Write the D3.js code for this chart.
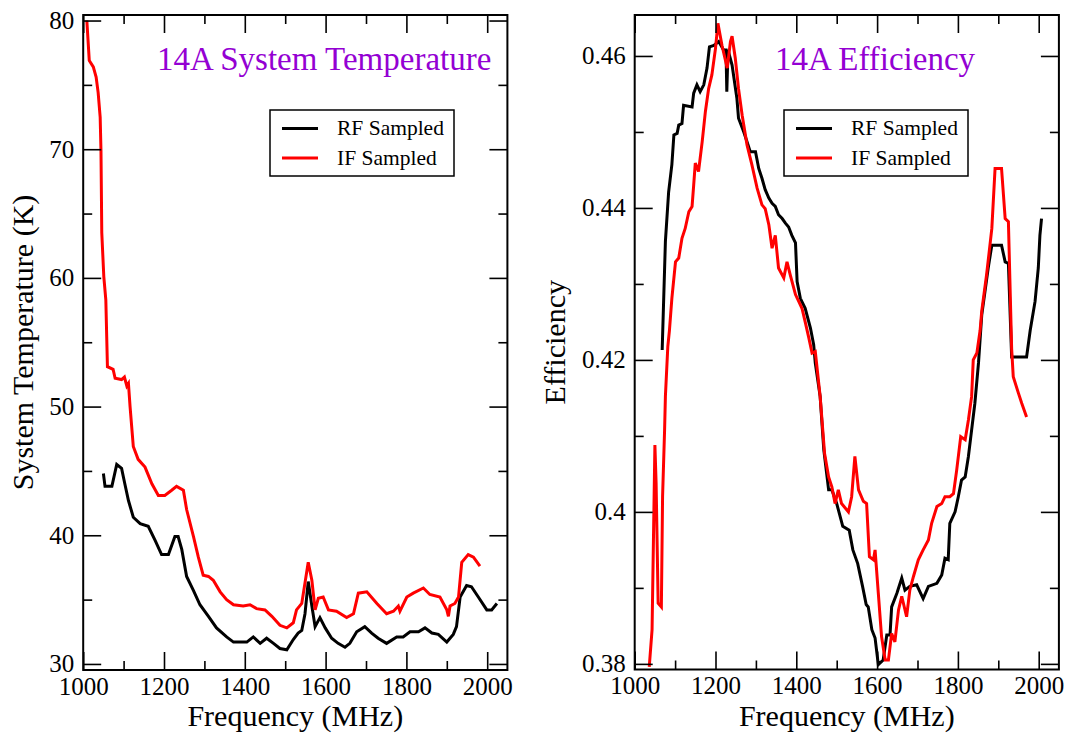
<!DOCTYPE html>
<html lang="en">
<head>
<meta charset="UTF-8">
<title>14A System Temperature and Efficiency</title>
<script src="https://cdnjs.cloudflare.com/ajax/libs/d3/7.8.5/d3.min.js"></script>
<style>
  body { margin: 0; background: #fff; }
  svg { display: block; font-family: "Liberation Serif", "Times New Roman", serif; }
</style>
</head>
<body>
<svg id="chart" width="1067" height="733"></svg>
<script>
// ---- data: [frequency MHz, value] ----
const tempRF = [
  [1050,44.8],[1054,43.8],[1071,43.8],[1083,45.5],[1095,45.2],[1103,44.0],[1112,42.7],
  [1124,41.4],[1141,40.9],[1161,40.7],[1178,39.6],[1194,38.5],[1211,38.5],[1227,39.9],
  [1235,39.9],[1244,38.9],[1256,36.8],[1273,35.7],[1289,34.6],[1310,33.7],[1330,32.8],
  [1355,32.1],[1372,31.7],[1405,31.7],[1421,32.1],[1438,31.6],[1454,32.0],[1471,31.6],
  [1487,31.2],[1504,31.1],[1520,31.9],[1532,32.4],[1541,32.6],[1549,33.9],[1557,36.4],
  [1566,34.5],[1574,32.9],[1586,33.6],[1599,32.8],[1615,32.0],[1631,31.6],[1648,31.3],
  [1660,31.6],[1677,32.5],[1697,32.9],[1714,32.4],[1730,32.0],[1751,31.6],[1776,32.1],
  [1792,32.1],[1809,32.5],[1830,32.5],[1846,32.8],[1863,32.4],[1879,32.3],[1900,31.7],
  [1916,32.3],[1924,32.9],[1933,35.2],[1949,36.1],[1961,36.0],[1978,35.2],[1999,34.2],
  [2011,34.2],[2024,34.7]
];
const tempIF = [
  [1009,80.0],[1015,76.9],[1025,76.4],[1032,75.6],[1037,74.4],[1042,72.5],[1044,69.9],
  [1046,63.5],[1051,60.1],[1056,58.3],[1060,53.1],[1074,52.9],[1079,52.2],[1095,52.1],
  [1102,52.3],[1108,51.6],[1112,51.8],[1116,50.0],[1124,46.9],[1136,45.9],[1153,45.3],
  [1170,44.0],[1186,43.1],[1202,43.1],[1219,43.5],[1231,43.8],[1248,43.5],[1256,42.0],
  [1273,39.9],[1285,38.3],[1297,36.9],[1310,36.8],[1322,36.5],[1339,35.6],[1355,35.0],
  [1372,34.6],[1396,34.5],[1413,34.6],[1429,34.3],[1450,34.2],[1467,33.7],[1487,33.0],
  [1504,32.8],[1520,33.2],[1528,34.2],[1541,34.7],[1557,37.9],[1566,36.5],[1574,34.2],
  [1582,35.1],[1594,35.2],[1607,34.2],[1627,34.1],[1652,33.6],[1669,33.9],[1681,35.5],
  [1702,35.6],[1727,34.7],[1751,33.9],[1768,34.1],[1780,34.5],[1784,34.1],[1801,35.2],
  [1817,35.5],[1842,35.9],[1858,35.4],[1883,35.2],[1900,34.2],[1904,33.7],[1908,34.5],
  [1920,34.7],[1929,35.2],[1937,37.9],[1953,38.5],[1966,38.3],[1982,37.6]
];
const effRF = [
  [1068,0.4213],[1076,0.4356],[1084,0.4421],[1092,0.4457],[1097,0.4496],[1105,0.4498],
  [1109,0.4509],[1117,0.4511],[1121,0.4535],[1142,0.4533],[1146,0.4551],[1154,0.4562],
  [1162,0.4553],[1171,0.4562],[1179,0.4584],[1185,0.4612],[1196,0.4614],[1208,0.4619],
  [1220,0.4608],[1226,0.4608],[1228,0.4553],[1231,0.4608],[1241,0.4588],[1253,0.4544],
  [1257,0.4518],[1270,0.4500],[1278,0.4487],[1286,0.4474],[1299,0.4474],[1307,0.4452],
  [1315,0.4439],[1323,0.4424],[1332,0.4413],[1340,0.4406],[1348,0.4402],[1356,0.4391],
  [1365,0.4386],[1373,0.4380],[1381,0.4375],[1389,0.4364],[1398,0.4354],[1402,0.4303],
  [1410,0.4281],[1422,0.4268],[1435,0.4242],[1443,0.4220],[1447,0.4196],[1459,0.4152],
  [1468,0.4082],[1480,0.4029],[1488,0.4029],[1500,0.4011],[1515,0.3981],[1531,0.3976],
  [1540,0.3950],[1552,0.3932],[1564,0.3902],[1573,0.3878],[1578,0.3875],[1587,0.3845],
  [1595,0.3834],[1603,0.3799],[1615,0.3805],[1624,0.3838],[1632,0.3838],[1636,0.3875],
  [1649,0.3893],[1661,0.3913],[1669,0.3897],[1681,0.3902],[1698,0.3904],[1714,0.3886],
  [1727,0.3902],[1748,0.3906],[1760,0.3917],[1768,0.3939],[1776,0.3937],[1780,0.3985],
  [1793,0.4000],[1801,0.4020],[1809,0.4042],[1818,0.4046],[1826,0.4073],[1834,0.4108],
  [1842,0.4143],[1851,0.4196],[1859,0.4259],[1867,0.4290],[1875,0.4321],[1884,0.4351],
  [1908,0.4351],[1917,0.4329],[1925,0.4327],[1933,0.4204],[1970,0.4204],[1979,0.4239],
  [1991,0.4277],[1999,0.4321],[2003,0.4364],[2007,0.4386]
];
const effIF = [
  [1036,0.3796],[1043,0.3845],[1050,0.4088],[1053,0.4038],[1058,0.3880],[1066,0.3875],
  [1069,0.4020],[1074,0.4108],[1076,0.4152],[1082,0.4218],[1086,0.4239],[1092,0.4281],
  [1101,0.4329],[1109,0.4334],[1117,0.4360],[1125,0.4373],[1134,0.4395],[1142,0.4402],
  [1146,0.4430],[1150,0.4459],[1158,0.4448],[1167,0.4487],[1175,0.4527],[1183,0.4557],
  [1191,0.4575],[1200,0.4610],[1206,0.4643],[1216,0.4614],[1229,0.4584],[1237,0.4619],
  [1241,0.4626],[1249,0.4597],[1257,0.4557],[1266,0.4522],[1278,0.4483],[1290,0.4457],
  [1303,0.4426],[1315,0.4404],[1323,0.4399],[1332,0.4378],[1340,0.4347],[1348,0.4364],
  [1356,0.4321],[1369,0.4308],[1377,0.4329],[1385,0.4312],[1398,0.4286],[1406,0.4277],
  [1414,0.4268],[1422,0.4250],[1431,0.4229],[1439,0.4209],[1447,0.4211],[1459,0.4152],
  [1470,0.4077],[1480,0.4046],[1488,0.4033],[1496,0.4011],[1504,0.4029],[1512,0.4011],
  [1529,0.4000],[1537,0.4020],[1545,0.4073],[1554,0.4029],[1566,0.4014],[1574,0.4011],
  [1581,0.3941],[1591,0.3937],[1595,0.3950],[1603,0.3893],[1611,0.3836],[1620,0.3805],
  [1628,0.3805],[1636,0.3840],[1644,0.3829],[1653,0.3871],[1661,0.3889],[1673,0.3862],
  [1681,0.3897],[1690,0.3915],[1702,0.3937],[1714,0.3950],[1727,0.3963],[1735,0.3985],
  [1748,0.4007],[1760,0.4011],[1768,0.4020],[1780,0.4020],[1789,0.4024],[1797,0.4055],
  [1807,0.4099],[1818,0.4095],[1826,0.4121],[1834,0.4152],[1838,0.4200],[1847,0.4209],
  [1855,0.4239],[1859,0.4264],[1871,0.4312],[1884,0.4373],[1892,0.4452],[1908,0.4452],
  [1917,0.4386],[1925,0.4382],[1933,0.4215],[1937,0.4178],[1950,0.4156],[1958,0.4143],
  [1970,0.4125]
];

const freqMajor = [1000, 1200, 1400, 1600, 1800, 2000];
const freqMinor = [1100, 1300, 1500, 1700, 1900];
const tempMajor = [30, 40, 50, 60, 70, 80];
const tempMinor = [35, 45, 55, 65, 75];
const effMajor = [0.38, 0.40, 0.42, 0.44, 0.46];
const effMinor = [0.39, 0.41, 0.43, 0.45];
const effTickLabels = ["0.38", "0.4", "0.42", "0.44", "0.46"];
const seriesNames = ["RF Sampled", "IF Sampled"];
const seriesColors = ["#000000", "#ff0000"];
const titleColor = "#9400d3";

const svg = d3.select("#chart");

function drawPanel(p) {
    const x = d3.scaleLinear().domain([1000, 2050]).range([p.left, p.right]);
    const y = d3.scaleLinear().domain(p.yDomain).range([p.bottom, p.top]);
    const g = svg.append("g");

    g.append("clipPath").attr("id", p.id + "-clip")
        .append("rect")
        .attr("x", p.left).attr("y", p.top)
        .attr("width", p.right - p.left).attr("height", p.bottom - p.top);

    // series
    const line = d3.line().x(d => x(d[0])).y(d => y(d[1]));
    p.series.forEach((s, i) => {
        g.append("path")
            .datum(s)
            .attr("clip-path", `url(#${p.id}-clip)`)
            .attr("fill", "none")
            .attr("stroke", seriesColors[i])
            .attr("stroke-width", 3)
            .attr("stroke-linejoin", "miter")
            .attr("d", line);
    });

    // ticks on all four sides, pointing inwards
    const axes = [
        [d3.axisBottom(x).tickValues(freqMajor).tickSize(-18).tickPadding(7).tickFormat(d3.format("d")), `translate(0,${p.bottom})`],
        [d3.axisBottom(x).tickValues(freqMinor).tickSize(-9).tickFormat(""), `translate(0,${p.bottom})`],
        [d3.axisTop(x).tickValues(freqMajor).tickSize(-18).tickFormat(""), `translate(0,${p.top})`],
        [d3.axisTop(x).tickValues(freqMinor).tickSize(-9).tickFormat(""), `translate(0,${p.top})`],
        [d3.axisLeft(y).tickValues(p.yMajor).tickSize(-18).tickPadding(9).tickFormat((d, i) => p.yLabels[i]), `translate(${p.left},0)`],
        [d3.axisLeft(y).tickValues(p.yMinor).tickSize(-9).tickFormat(""), `translate(${p.left},0)`],
        [d3.axisRight(y).tickValues(p.yMajor).tickSize(-18).tickFormat(""), `translate(${p.right},0)`],
        [d3.axisRight(y).tickValues(p.yMinor).tickSize(-9).tickFormat(""), `translate(${p.right},0)`]
    ];
    axes.forEach(([ax, tr]) => {
        const a = g.append("g").attr("transform", tr).call(ax);
        a.select(".domain").remove();
        a.selectAll(".tick line").attr("stroke", "#000").attr("stroke-width", 1.6);
        a.selectAll("text")
            .attr("fill", "#000")
            .style("font-family", "'Liberation Serif', serif")
            .style("font-size", "25px");
    });

    // frame
    g.append("rect")
        .attr("x", p.left).attr("y", p.top)
        .attr("width", p.right - p.left).attr("height", p.bottom - p.top)
        .attr("fill", "none").attr("stroke", "#000").attr("stroke-width", 2);

    // axis titles
    g.append("text")
        .attr("x", (p.left + p.right) / 2).attr("y", 726)
        .attr("text-anchor", "middle")
        .style("font-size", "30px")
        .text("Frequency (MHz)");
    g.append("text")
        .attr("transform", `translate(${p.yTitleX},${(p.top + p.bottom) / 2}) rotate(-90)`)
        .attr("text-anchor", "middle")
        .style("font-size", "30px")
        .text(p.yTitle);

    // panel title
    g.append("text")
        .attr("x", p.titleX).attr("y", 70)
        .attr("fill", titleColor)
        .style("font-size", "33px")
        .text(p.title);

    // legend
    const lg = g.append("g").attr("transform", `translate(${p.legendX},110)`);
    lg.append("rect")
        .attr("width", 184).attr("height", 66)
        .attr("fill", "#fff").attr("stroke", "#000").attr("stroke-width", 1.5);
    seriesNames.forEach((name, i) => {
        const ly = 18.5 + i * 29.5;
        lg.append("line")
            .attr("x1", 12).attr("x2", 48).attr("y1", ly).attr("y2", ly)
            .attr("stroke", seriesColors[i]).attr("stroke-width", 3);
        lg.append("text")
            .attr("x", 67).attr("y", ly + 6.5)
            .style("font-size", "21.5px")
            .text(name);
    });
}

drawPanel({
    id: "temp", left: 83.2, right: 507.4, top: 15, bottom: 670,
    yDomain: [29.53, 80.43], yMajor: tempMajor, yMinor: tempMinor,
    yLabels: tempMajor.map(String),
    series: [tempRF, tempIF],
    yTitle: "System Temperature (K)", yTitleX: 33,
    title: "14A System Temperature", titleX: 157,
    legendX: 270
});

drawPanel({
    id: "eff", left: 634.7, right: 1058.9, top: 15, bottom: 669.5,
    yDomain: [0.37926, 0.46539], yMajor: effMajor, yMinor: effMinor,
    yLabels: effTickLabels,
    series: [effRF, effIF],
    yTitle: "Efficiency", yTitleX: 565,
    title: "14A Efficiency", titleX: 775,
    legendX: 784
});
</script>
</body>
</html>
